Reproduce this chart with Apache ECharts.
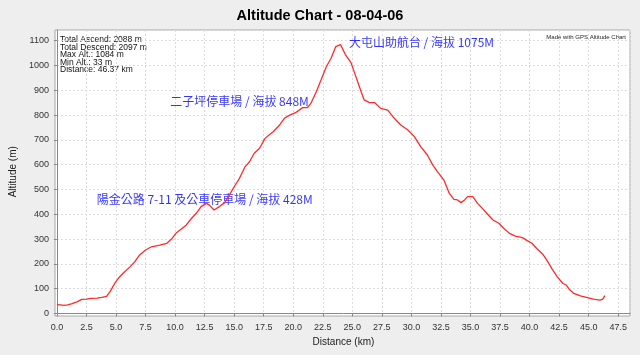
<!DOCTYPE html>
<html>
<head>
<meta charset="utf-8">
<script src="https://cdn.jsdelivr.net/npm/echarts@6/dist/echarts.min.js"></script>
<style>html,body{margin:0;padding:0;background:#eeeeee;}#c{width:640px;height:355px;}</style>
</head>
<body>
<div id="c"></div>
<script>
// ---- data ----
const distanceKm = [0.0,0.3,0.6,0.9,1.0,1.3,1.5,1.7,1.8,1.9,2.1,2.5,2.9,3.4,3.8,4.2,4.35,4.5,4.9,5.2,5.6,6.2,6.6,7.0,7.5,8.0,8.7,9.3,9.7,10.1,10.5,10.95,11.4,11.8,12.2,12.65,12.9,13.3,13.75,14.2,14.6,15.0,15.45,15.9,16.3,16.7,17.15,17.6,18.0,18.3,18.85,19.25,19.7,20.25,20.8,21.2,21.5,21.95,22.35,22.8,23.2,23.6,24.0,24.4,24.9,25.2,25.6,26.0,26.45,26.9,27.4,28.0,28.55,29.1,29.7,30.25,30.8,31.35,31.8,32.2,32.75,33.2,33.6,33.9,34.2,34.5,34.75,35.2,35.6,36.0,36.45,36.9,37.4,37.8,38.3,38.8,39.4,39.8,40.2,40.65,41.1,41.5,41.9,42.35,42.8,43.1,43.35,43.75,44.3,44.9,45.4,45.95,46.2,46.37];
const altitudeM = [36,35,33,35,42,40,44,47,42,52,57,58,61,62,65,69,68,88,122,142,162,189,209,236,256,269,276,283,300,325,340,357,384,404,431,444,437,417,431,447,478,511,545,590,612,646,666,705,722,733,760,787,800,811,830,830,848,894,941,995,1029,1076,1084,1045,1010,969,914,861,850,850,827,820,787,760,740,713,672,639,599,572,538,485,460,458,447,458,471,471,444,424,400,377,364,344,323,312,306,294,283,260,240,212,180,148,122,115,98,81,71,64,58,54,58,72];
const annoTexts = ['大屯山助航台 / 海拔 1075M','二子坪停車場 / 海拔 848M','陽金公路 7-11 及公車停車場 / 海拔 428M'];
const annoKm = [24.71, 9.6, 3.37];
const annoAlt = [1091, 853, 458];
const statsLines = ['Total Ascend: 2088 m','Total Descend: 2097 m','Max Alt.: 1084 m','Min Alt.: 33 m','Distance: 46.37 km'];
const titleText = 'Altitude Chart - 08-04-06';
const xName = 'Distance (km)';
const yName = 'Altitude (m)';
const credit = 'Made with GPS Altitude Chart';

const lineData = distanceKm.map((d,i)=>[d, altitudeM[i]]);
const annoData = annoTexts.map((t,i)=>({name:t, value:[annoKm[i], annoAlt[i]]}));

const FONT = '"Liberation Sans", Arial, sans-serif';
const chart = echarts.init(document.getElementById('c'), null, {renderer:'canvas'});
chart.setOption({
  animation:false,
  backgroundColor:'#eeeeee',
  textStyle:{fontFamily:FONT},
  title:{text:titleText,left:'center',top:3,textStyle:{fontSize:14.5,fontWeight:'bold',color:'#000',fontFamily:FONT}},
  graphic:[
    {type:'text',left:60,top:35.5,silent:true,style:{text:statsLines.join('\n'),font:'8.5px '+FONT,lineHeight:7.5,fill:'#111'}},
    {type:'text',right:14,top:34,silent:true,style:{text:credit,font:'6px '+FONT,fill:'#222'}}
  ],
  grid:[
    {left:55,top:30,right:10,bottom:39,show:true,backgroundColor:'#ffffff',borderColor:'#a8a8a8',borderWidth:1},
    {left:55,top:30,right:10,bottom:41.5,show:false}
  ],
  xAxis:[
    {gridIndex:0,type:'value',show:false,min:0,max:1},
    {gridIndex:1,type:'value',min:0,max:48.5,interval:2.5,offset:4.5,
     name:xName,nameLocation:'middle',nameGap:18.5,nameTextStyle:{fontSize:10,color:'#222',fontFamily:FONT},
     axisLine:{show:true,lineStyle:{color:'#888',width:1}},
     axisTick:{show:true,length:3,lineStyle:{color:'#888'}},
     axisLabel:{fontSize:9,color:'#333',margin:5,showMaxLabel:false,formatter:v=>v.toFixed(1)},
     splitLine:{show:true,lineStyle:{color:'#dcdcdc',type:[2,2],width:1}}}
  ],
  yAxis:[
    {gridIndex:0,type:'value',show:false,min:0,max:1},
    {gridIndex:1,type:'value',min:0,max:1143,interval:100,offset:3,
     name:yName,nameLocation:'middle',nameGap:31,nameTextStyle:{fontSize:10,color:'#222',fontFamily:FONT},
     axisLine:{show:true,lineStyle:{color:'#888',width:1}},
     axisTick:{show:true,length:3,lineStyle:{color:'#888'}},
     axisLabel:{fontSize:9,color:'#333',margin:5,showMaxLabel:false,formatter:v=>String(v)},
     splitLine:{show:true,lineStyle:{color:'#dcdcdc',type:[2,2],width:1}}}
  ],
  series:[
    {type:'line',xAxisIndex:1,yAxisIndex:1,data:lineData,showSymbol:false,symbol:'none',
     lineStyle:{color:'#ff2a2a',width:1.3},silent:true},
    {type:'scatter',xAxisIndex:1,yAxisIndex:1,data:annoData,symbolSize:0,silent:true,
     label:{show:true,formatter:'{b}',position:[0,0],align:'left',verticalAlign:'middle',
       color:'#0000ff',fontSize:12,fontFamily:'"Noto Sans CJK TC", "Liberation Sans", sans-serif'}}
  ]
});
</script>
</body>
</html>
